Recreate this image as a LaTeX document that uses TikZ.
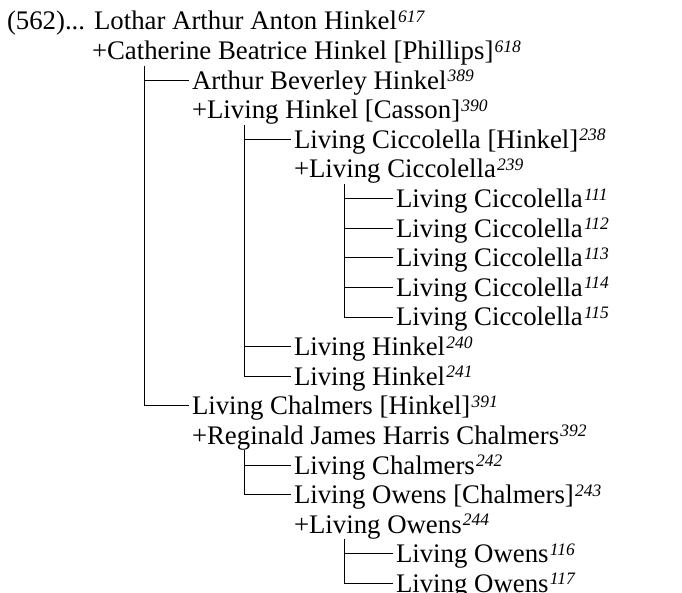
\documentclass[tikz,border=0pt]{standalone}
\usepackage{fontspec}
\setmainfont{Liberation Serif}
\newcommand{\sref}[1]{\kern1.2pt\raisebox{7.5pt}{\fontsize{17.5}{18}\selectfont\itshape #1}}
\begin{document}
\begin{tikzpicture}[x=1pt,y=1pt,
  person/.style={anchor=base west, inner sep=0pt, outer sep=0pt, font=\fontsize{26.8}{30}\selectfont},
  branch/.style={draw=black, line width=0.9pt}]
\useasboundingbox (0,0) rectangle (682,-593);
% people
\node[person] (n1)  at (7,-30)      {(562)... Lothar Arthur Anton Hinkel\sref{617}};
\node[person] (n2)  at (92,-59.6)   {+Catherine Beatrice Hinkel [Phillips]\sref{618}};
\node[person] (n3)  at (192,-89.2)  {Arthur Beverley Hinkel\sref{389}};
\node[person] (n4)  at (192,-118.8) {+Living Hinkel [Casson]\sref{390}};
\node[person] (n5)  at (294,-148.4) {Living Ciccolella [Hinkel]\sref{238}};
\node[person] (n6)  at (294,-178)   {+Living Ciccolella\sref{239}};
\node[person] (n7)  at (396,-207.6) {Living Ciccolella\sref{111}};
\node[person] (n8)  at (396,-237.2) {Living Ciccolella\sref{112}};
\node[person] (n9)  at (396,-266.8) {Living Ciccolella\sref{113}};
\node[person] (n10) at (396,-296.4) {Living Ciccolella\sref{114}};
\node[person] (n11) at (396,-326)   {Living Ciccolella\sref{115}};
\node[person] (n12) at (294,-355.6) {Living Hinkel\sref{240}};
\node[person] (n13) at (294,-385.2) {Living Hinkel\sref{241}};
\node[person] (n14) at (192,-414.8) {Living Chalmers [Hinkel]\sref{391}};
\node[person] (n15) at (192,-444.4) {+Reginald James Harris Chalmers\sref{392}};
\node[person] (n16) at (294,-474)   {Living Chalmers\sref{242}};
\node[person] (n17) at (294,-503.6) {Living Owens [Chalmers]\sref{243}};
\node[person] (n18) at (294,-533.2) {+Living Owens\sref{244}};
\node[person] (n19) at (396,-562.8) {Living Owens\sref{116}};
\node[person] (n20) at (396,-592.4) {Living Owens\sref{117}};
% connector ends
\foreach \i in {3,5,7,8,9,10,11,12,13,14,16,17,19,20}
  \coordinate (c\i) at ([shift={(-3,9)}]n\i.base west);
% vertical tops
\coordinate (v1)  at ([shift={(52,-6)}]n2.base west);
\coordinate (v2a) at ([shift={(52,-6)}]n4.base west);
\coordinate (v3a) at ([shift={(50,-6)}]n6.base west);
\coordinate (v2b) at ([shift={(52,-6)}]n15.base west);
\coordinate (v3b) at ([shift={(50,-6)}]n18.base west);
% branches
\draw[branch] (v1) |- (c14);
\draw[branch] (v1 |- c3) -- (c3);
\draw[branch] (v2a) |- (c13);
\draw[branch] (v2a |- c5) -- (c5);
\draw[branch] (v2a |- c12) -- (c12);
\draw[branch] (v3a) |- (c11);
\foreach \i in {7,8,9,10} \draw[branch] (v3a |- c\i) -- (c\i);
\draw[branch] (v2b) |- (c17);
\draw[branch] (v2b |- c16) -- (c16);
\draw[branch] (v3b) |- (c20);
\draw[branch] (v3b |- c19) -- (c19);
\end{tikzpicture}
\end{document}
